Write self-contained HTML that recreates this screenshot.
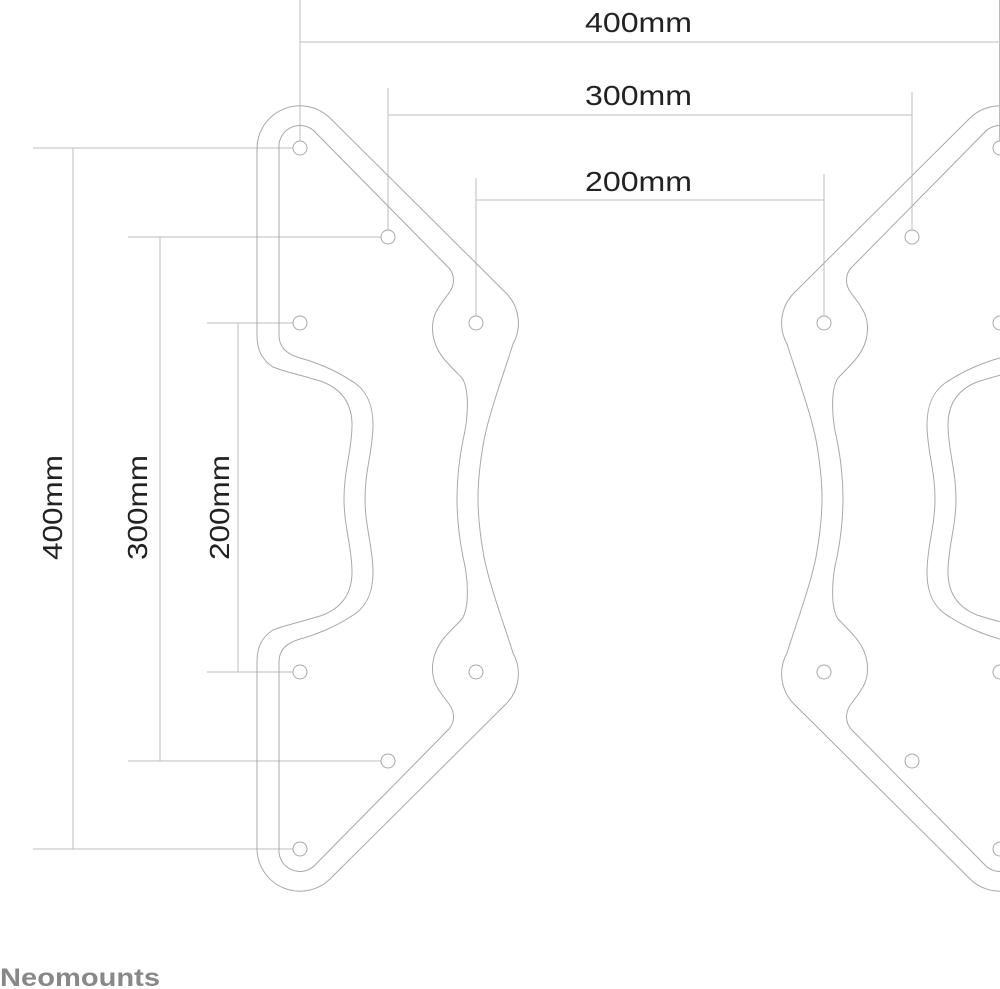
<!DOCTYPE html>
<html><head><meta charset="utf-8"><style>
html,body{margin:0;padding:0;background:#fff;}
svg{display:block;}
</style></head><body>
<svg width="1000" height="989" viewBox="0 0 1000 989" xmlns="http://www.w3.org/2000/svg" xmlns:xlink="http://www.w3.org/1999/xlink">
<defs>
<g id="half" fill="none" stroke="#a8a8a8" stroke-width="1">
  <path d="M344,498.5 C344,470 352,450 352,425 C352,405 343,390 323,382 C305,376 285,372 273,367 C262,360 257,350 257,335 L257,148 A43,43 0 0 1 330,118 L506,293 A43,43 0 0 1 513,344 C505,370 490,410 484,440 C480,462 478,480 478,498.5"/>
  <path d="M365,498.5 C365,470 373,450 373,425 C373,402 365,388 350,380 C335,370 315,362 300,358 C287,354 279,348 279,335 L279,148 A21,21 0 0 1 316,133 L449,268 C455,275 455,285 449,293 C440,305 430,315 433,335 C436,355 450,365 462,378 C470,390 468,420 463,440 C459,460 457,480 457,498.5"/>
</g>
<g id="plate">
  <use xlink:href="#half"/>
  <use xlink:href="#half" transform="translate(0,997) scale(1,-1)"/>
  <g fill="#fff" stroke="#a8a8a8" stroke-width="1">
    <circle cx="300" cy="148" r="7"/><circle cx="388" cy="237" r="7"/>
    <circle cx="300" cy="323" r="7"/><circle cx="476" cy="323" r="7"/>
    <circle cx="300" cy="672" r="7"/><circle cx="476" cy="672" r="7"/>
    <circle cx="388" cy="761" r="7"/><circle cx="300" cy="849" r="7"/>
  </g>
</g>
</defs>
<g stroke="#bdbdbd" stroke-width="1" fill="none">
  <line x1="300" y1="0" x2="300" y2="141"/>
  <line x1="300" y1="42" x2="1000" y2="42"/>
  <line x1="388" y1="88" x2="388" y2="230"/>
  <line x1="912" y1="92" x2="912" y2="230"/>
  <line x1="388" y1="115" x2="912" y2="115"/>
  <line x1="476" y1="178" x2="476" y2="316"/>
  <line x1="824" y1="174" x2="824" y2="316"/>
  <line x1="476" y1="200" x2="824" y2="200"/>
  <line x1="999.5" y1="0" x2="999.5" y2="141"/>
  <line x1="33" y1="148" x2="293" y2="148"/>
  <line x1="33" y1="849" x2="293" y2="849"/>
  <line x1="73" y1="148" x2="73" y2="849"/>
  <line x1="128" y1="237" x2="381" y2="237"/>
  <line x1="128" y1="761" x2="381" y2="761"/>
  <line x1="160" y1="237" x2="160" y2="761"/>
  <line x1="207" y1="323" x2="293" y2="323"/>
  <line x1="207" y1="672" x2="293" y2="672"/>
  <line x1="238" y1="323" x2="238" y2="672"/>
</g>
<use xlink:href="#plate"/>
<use xlink:href="#plate" transform="translate(1300,0) scale(-1,1)"/>
<g font-family="'Liberation Sans', 'DejaVu Sans', sans-serif" font-size="28" fill="#222">
  <text x="585" y="32" textLength="107" lengthAdjust="spacingAndGlyphs">400mm</text>
  <text x="585" y="105" textLength="107" lengthAdjust="spacingAndGlyphs">300mm</text>
  <text x="585" y="191" textLength="107" lengthAdjust="spacingAndGlyphs">200mm</text>
  <text transform="translate(62,560) rotate(-90)" textLength="105" lengthAdjust="spacingAndGlyphs">400mm</text>
  <text transform="translate(147,560) rotate(-90)" textLength="105" lengthAdjust="spacingAndGlyphs">300mm</text>
  <text transform="translate(229,560) rotate(-90)" textLength="105" lengthAdjust="spacingAndGlyphs">200mm</text>
</g>
<text x="0" y="986" font-family="'Liberation Sans', sans-serif" font-weight="bold" font-size="25" fill="#888" textLength="160" lengthAdjust="spacingAndGlyphs">Neomounts</text>
</svg>
</body></html>
